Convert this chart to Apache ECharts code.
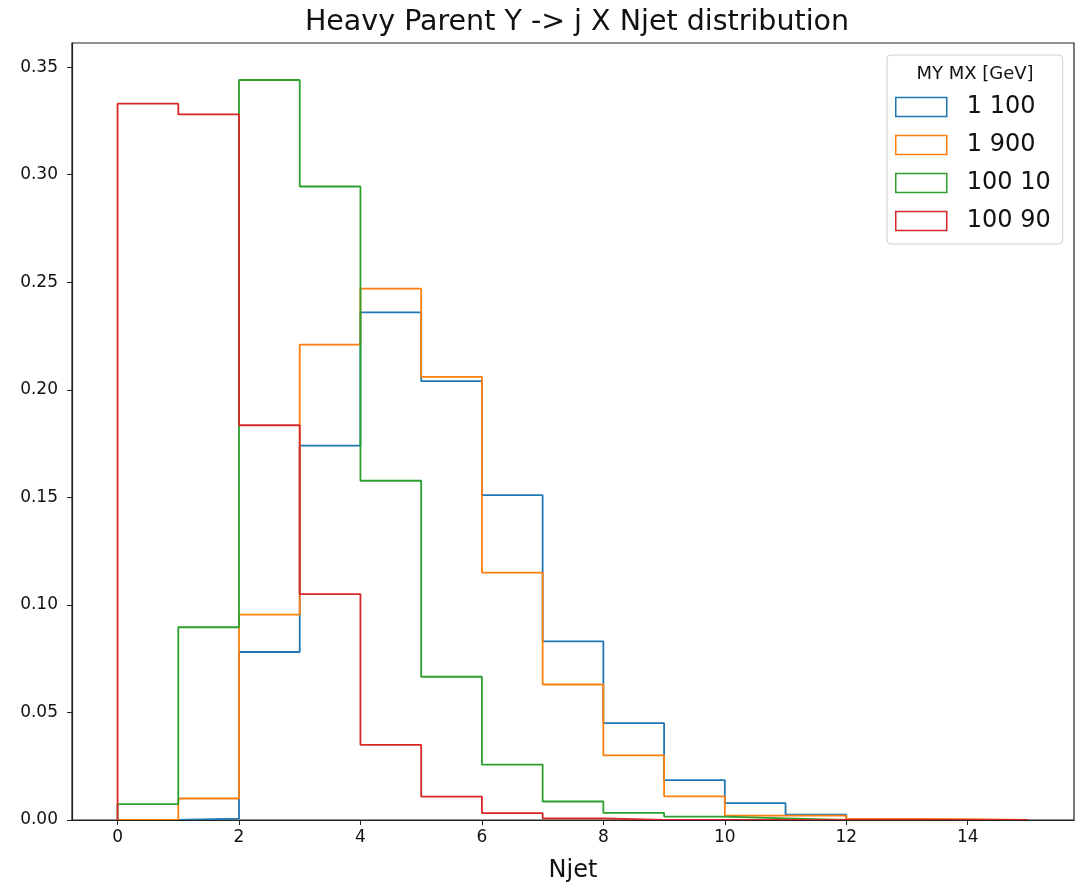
<!DOCTYPE html>
<html>
<head>
<meta charset="utf-8">
<script src="https://cdn.jsdelivr.net/npm/echarts@6/dist/echarts.min.js"></script>
<style>
  html, body { margin: 0; padding: 0; background: #fff; }
  #chart { width: 1078px; height: 888px; }
</style>
</head>
<body>
<div id="chart"></div>
<script>
// histogram bin edges (Njet) and normalised counts per bin
const binEdges = [0, 1, 2, 3, 4, 5, 6, 7, 8, 9, 10, 11, 12, 13, 14, 15];
const seriesNames = ['1 100', '1 900', '100 10', '100 90'];
const colors = ['#1f77b4', '#ff7f0e', '#2ca02c', '#d62728'];

const my1mx100 = [0, 0.0006, 0.0781, 0.174, 0.236, 0.204, 0.151, 0.083, 0.045, 0.0185, 0.0078, 0.0025, 0.0004, 0, 0];
const my1mx900 = [0, 0.010, 0.0955, 0.221, 0.247, 0.206, 0.115, 0.063, 0.030, 0.011, 0.002, 0.002, 0.0005, 0.0004, 0];
const my100mx10 = [0.0074, 0.0896, 0.344, 0.2945, 0.1577, 0.0666, 0.0257, 0.0086, 0.0033, 0.0016, 0.0008, 0, 0, 0, 0];
const my100mx90 = [0.333, 0.328, 0.1835, 0.105, 0.0349, 0.0109, 0.0032, 0.0008, 0, 0, 0, 0, 0, 0, 0];

const xTicks = [0, 2, 4, 6, 8, 10, 12, 14];
const yTicks = [0, 0.05, 0.10, 0.15, 0.20, 0.25, 0.30, 0.35];

const allValues = [my1mx100, my1mx900, my100mx10, my100mx90];

// build step outline like matplotlib histtype='step'
function stepPoints(values) {
  const pts = [[binEdges[0], 0]];
  values.forEach((v, i) => pts.push([binEdges[i], v]));
  const last = binEdges[binEdges.length - 1];
  pts.push([last, values[values.length - 1]]);
  pts.push([last, 0]);
  return pts;
}

const chart = echarts.init(document.getElementById('chart'));

const option = {
  animation: false,
  backgroundColor: '#fff',
  title: {
    text: 'Heavy Parent Y -> j X Njet distribution',
    left: 572,
    top: 3,
    textAlign: 'center',
    textStyle: { fontFamily: 'DejaVu Sans', fontSize: 28.5, fontWeight: 'normal', color: '#111' },
  },
  grid: {
    left: 72,
    right: 4,
    top: 43,
    bottom: 62,
    show: true,
    borderColor: '#222',
    borderWidth: 1.2,
    backgroundColor: 'transparent',
  },
  legend: {
    orient: 'vertical',
    left: 887,
    top: 55,
    padding: [40, 12, 11, 8],
    itemWidth: 51,
    itemHeight: 19,
    itemGap: 14,
    icon: 'rect',
    backgroundColor: 'rgba(255,255,255,0.8)',
    borderColor: '#d0d0d0',
    borderWidth: 1,
    borderRadius: 4,
    textStyle: { fontFamily: 'DejaVu Sans', fontSize: 24, color: '#111', padding: [0, 0, 0, 15] },
    data: seriesNames.map((n, i) => ({
      name: n,
      itemStyle: { color: '#fff', borderColor: colors[i], borderWidth: 1.5 },
    })),
  },
  graphic: [
    {
      type: 'text',
      x: 975,
      y: 74,
      z: 100,
      style: {
        text: 'MY MX [GeV]',
        fontFamily: 'DejaVu Sans',
        fontSize: 18,
        fill: '#111',
        textAlign: 'center',
        textVerticalAlign: 'middle',
      },
    },
  ],
  xAxis: {
    type: 'value',
    min: -0.75,
    max: 15.75,
    z: 3,
    name: 'Njet',
    nameLocation: 'middle',
    nameGap: 39,
    nameTextStyle: { fontFamily: 'DejaVu Sans', fontSize: 24, color: '#111' },
    splitLine: { show: false },
    axisLine: { onZero: false, lineStyle: { color: '#222', width: 1.2 } },
    axisTick: { show: true, inside: false, length: 5, customValues: xTicks, lineStyle: { color: '#222' } },
    axisLabel: {
      customValues: xTicks,
      margin: 9,
      fontFamily: 'DejaVu Sans',
      fontSize: 17,
      color: '#111',
    },
  },
  yAxis: {
    type: 'value',
    min: 0,
    max: 0.3612,
    z: 3,
    splitLine: { show: false },
    axisLine: { show: true, onZero: false, lineStyle: { color: '#222', width: 1.2 } },
    axisTick: { show: true, inside: false, length: 5, customValues: yTicks, lineStyle: { color: '#222' } },
    axisLabel: {
      customValues: yTicks,
      margin: 14,
      fontFamily: 'DejaVu Sans',
      fontSize: 17,
      color: '#111',
      formatter: v => v.toFixed(2),
    },
  },
  series: allValues.map((vals, i) => ({
    name: seriesNames[i],
    type: 'line',
    step: 'end',
    showSymbol: false,
    symbol: 'none',
    z: 2,
    color: colors[i],
    lineStyle: { color: colors[i], width: 1.8 },
    data: stepPoints(vals),
  })),
};

chart.setOption(option);
</script>
</body>
</html>
